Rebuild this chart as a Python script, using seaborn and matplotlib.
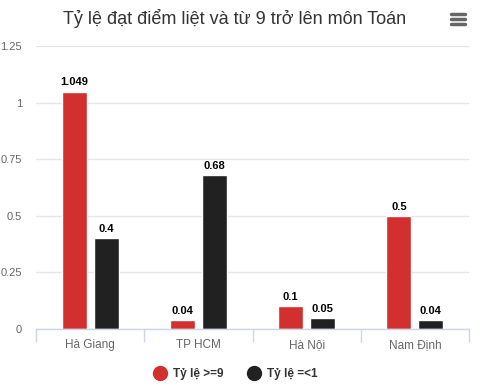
import matplotlib
matplotlib.use("Agg")
import matplotlib.pyplot as plt
import seaborn as sns
import pandas as pd
from matplotlib.lines import Line2D

# dữ liệu
provinces = ["Hà Giang", "TP HCM", "Hà Nội", "Nam Định"]
rate_9_plus = [1.049, 0.04, 0.1, 0.5]
rate_below_1 = [0.4, 0.68, 0.05, 0.04]
series_names = ["Tỷ lệ >=9", "Tỷ lệ =<1"]
y_ticks = [0, 0.25, 0.5, 0.75, 1, 1.25]
y_tick_labels = ["0", "0.25", "0.5", "0.75", "1", "1.25"]

df = pd.DataFrame({
    "province": provinces * 2,
    "series": [series_names[0]] * 4 + [series_names[1]] * 4,
    "value": rate_9_plus + rate_below_1,
})

sns.set_theme(style="white")
plt.rcParams["font.family"] = ["Liberation Sans", "DejaVu Sans"]

fig = plt.figure(figsize=(4.9, 3.86), dpi=100)
ax = fig.add_axes([36 / 490, 1 - 329 / 386, 433 / 490, 283 / 386])

palette = {series_names[0]: "#d32f2f", series_names[1]: "#212121"}
sns.barplot(data=df, x="province", y="value", hue="series", order=provinces,
            hue_order=series_names, palette=palette, width=0.59, gap=0.22,
            saturation=1, ax=ax, legend=False)

# nhãn giá trị
for cont in ax.containers:
    labels = []
    for v in cont.datavalues:
        labels.append(f"{v:g}")
    ax.bar_label(cont, labels=labels, padding=3, fontsize=8, fontweight="bold",
                 color="#000000")

ax.set_ylim(0, 1.25)
ax.set_xlim(-0.5, 3.5)
ax.set_yticks(y_ticks)
ax.set_yticklabels(y_tick_labels)
ax.yaxis.grid(True, color="#e6e6e6", linewidth=1)
ax.set_axisbelow(True)
ax.set_xlabel("")
ax.set_ylabel("")

for s in ["left", "right", "top"]:
    ax.spines[s].set_visible(False)
ax.spines["bottom"].set_color("#ccd6eb")
ax.spines["bottom"].set_linewidth(1)

ax.tick_params(axis="y", length=0, labelsize=8, labelcolor="#666666", pad=10)
ax.tick_params(axis="x", which="major", length=0, labelsize=8.5,
               labelcolor="#666666", pad=7)
ax.set_xticks([-0.5, 0.5, 1.5, 2.5, 3.5], minor=True)
ax.tick_params(axis="x", which="minor", bottom=True, length=9,
               color="#ccd6eb", width=1, direction="out")
for lbl in ax.get_yticklabels():
    lbl.set_horizontalalignment("right")

fig.text(235 / 490, 1 - 19 / 386, "Tỷ lệ đạt điểm liệt và từ 9 trở lên môn Toán",
         ha="center", va="center", fontsize=13, color="#333333")

# biểu tượng menu
for yy in [14, 19, 24]:
    fig.add_artist(Line2D([451 / 490, 465 / 490], [1 - yy / 386, 1 - yy / 386],
                          color="#666666", linewidth=2.5,
                          solid_capstyle="round"))

handles = [Line2D([], [], marker="o", linestyle="", markersize=10,
                  markerfacecolor=palette[n], markeredgecolor=palette[n])
           for n in series_names]
leg = fig.legend(handles, series_names, loc="center",
                 bbox_to_anchor=(233 / 490, 1 - 374 / 386), ncol=2,
                 frameon=False, handletextpad=0.1, columnspacing=1.6,
                 fontsize=8.5)
for t in leg.get_texts():
    t.set_fontweight("bold")
    t.set_color("#333333")

fig.savefig("out.png", dpi=100)
